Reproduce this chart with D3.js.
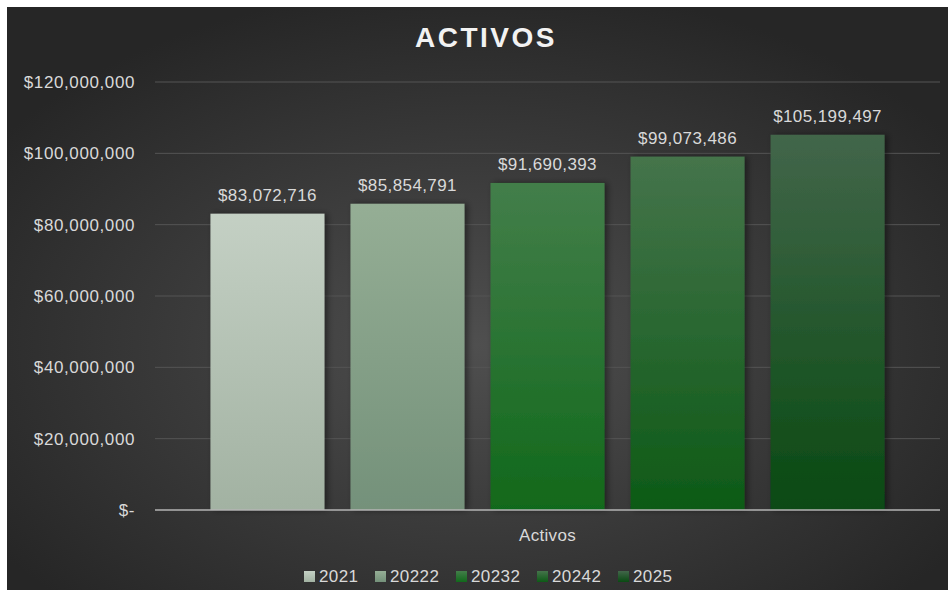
<!DOCTYPE html>
<html>
<head>
<meta charset="utf-8">
<script src="https://cdn.jsdelivr.net/npm/d3@7"></script>
<style>
  body { margin: 0; background: #ffffff; }
  svg { display: block; font-family: "Liberation Sans", Arial, sans-serif; }
</style>
</head>
<body>
<svg id="chart"></svg>
<script>
const width = 949, height = 590
const margin = { top: 82, bottom: 80, left: 155, right: 9 }

// data
const categories = ["Activos"]
const series = ["2021", "20222", "20232", "20242", "2025"]
const values = [83072716, 85854791, 91690393, 99073486, 105199497]
const yTicks = [0, 20000000, 40000000, 60000000, 80000000, 100000000, 120000000]
// top / bottom colour of each bar's gradient
const colorsTop = ["#c4d0c4", "#95ae95", "#437e4a", "#45744b", "#42664a"]
const colorsBottom = ["#a2b2a2", "#74917a", "#11691b", "#0d5a16", "#094a12"]

const data = series.map((s, i) => ({ name: s, value: values[i], top: colorsTop[i], bottom: colorsBottom[i] }))

const svg = d3.select("svg#chart")
    .attr("width", width)
    .attr("height", height)
    .attr("viewBox", [0, 0, width, height])

const defs = svg.append("defs")

const bg = defs.append("radialGradient")
    .attr("id", "bg")
    .attr("cx", "50%").attr("cy", "58%").attr("r", "62%")
bg.append("stop").attr("offset", "0%").attr("stop-color", "#4f4f4f")
bg.append("stop").attr("offset", "100%").attr("stop-color", "#262626")

data.forEach((d, i) => {
    const g = defs.append("linearGradient")
        .attr("id", "bar" + i)
        .attr("x1", 0).attr("y1", 0).attr("x2", 0).attr("y2", 1)
    g.append("stop").attr("offset", "0%").attr("stop-color", d.top)
    g.append("stop").attr("offset", "100%").attr("stop-color", d.bottom)
})

const shadow = defs.append("filter")
    .attr("id", "shadow")
    .attr("x", "-20%").attr("y", "-20%").attr("width", "140%").attr("height", "140%")
shadow.append("feDropShadow")
    .attr("dx", 3).attr("dy", 0)
    .attr("stdDeviation", 3)
    .attr("flood-color", "#000")
    .attr("flood-opacity", 0.45)

// background
svg.append("rect")
    .attr("x", 7).attr("y", 7)
    .attr("width", 941).attr("height", 583)
    .attr("fill", "url(#bg)")

const x0 = d3.scaleBand()
    .domain(categories)
    .range([margin.left, width - margin.right])

const x = d3.scaleBand()
    .domain(series)
    .range([0, x0.bandwidth()])
    .paddingInner(0.186)
    .paddingOuter(0.396)

const y = d3.scaleLinear()
    .domain([0, 120000000])
    .range([height - margin.bottom, margin.top])

const fmtMoney = v => v === 0 ? "$-" : "$" + d3.format(",")(v)

// gridlines
svg.append("g")
    .selectAll("line")
    .data(yTicks.filter(t => t > 0))
    .join("line")
    .attr("x1", margin.left)
    .attr("x2", width - margin.right)
    .attr("y1", d => y(d))
    .attr("y2", d => y(d))
    .attr("stroke", "#555555")
    .attr("stroke-width", 1)

// y axis labels
const yAxis = svg.append("g")
    .attr("transform", `translate(${margin.left - 20}, 0)`)
    .call(d3.axisLeft(y).tickValues(yTicks).tickFormat(fmtMoney).tickSize(0).tickPadding(0))
yAxis.select(".domain").remove()
yAxis.selectAll("text")
    .attr("fill", "#d9d9d9")
    .attr("font-size", 17)
    .attr("letter-spacing", 0.6)
    .attr("font-family", "Liberation Sans, Arial, sans-serif")

// bars
const group = svg.append("g")
    .attr("transform", `translate(${x0("Activos")}, 0)`)

group.selectAll("rect.bar")
    .data(data)
    .join("rect")
    .attr("class", "bar")
    .attr("x", d => x(d.name))
    .attr("y", d => y(d.value))
    .attr("width", x.bandwidth())
    .attr("height", d => y(0) - y(d.value))
    .attr("fill", (d, i) => `url(#bar${i})`)
    .attr("filter", "url(#shadow)")

group.selectAll("text.label")
    .data(data)
    .join("text")
    .attr("class", "label")
    .attr("x", d => x(d.name) + x.bandwidth() / 2)
    .attr("y", d => y(d.value) - 13)
    .attr("text-anchor", "middle")
    .attr("fill", "#d9d9d9")
    .attr("font-size", 17)
    .attr("letter-spacing", 0.4)
    .text(d => fmtMoney(d.value))

// x axis line
svg.append("line")
    .attr("x1", margin.left)
    .attr("x2", width - margin.right)
    .attr("y1", y(0))
    .attr("y2", y(0))
    .attr("stroke", "#b5b5b5")
    .attr("stroke-width", 1.5)

// category label
svg.append("text")
    .attr("x", x0("Activos") + x0.bandwidth() / 2)
    .attr("y", 541)
    .attr("text-anchor", "middle")
    .attr("fill", "#d9d9d9")
    .attr("font-size", 17)
    .attr("letter-spacing", 0.3)
    .text(categories[0])

// title
svg.append("text")
    .attr("x", 486)
    .attr("y", 47)
    .attr("text-anchor", "middle")
    .attr("fill", "#f2f2f2")
    .attr("font-size", 28)
    .attr("font-weight", "bold")
    .attr("letter-spacing", 2.5)
    .text("ACTIVOS")

// legend
const legendX = [304, 375, 456, 537, 618]
const legend = svg.append("g")
    .selectAll("g")
    .data(data)
    .join("g")
    .attr("transform", (d, i) => `translate(${legendX[i]}, 571)`)

legend.append("rect")
    .attr("width", 11)
    .attr("height", 11)
    .attr("fill", (d, i) => `url(#bar${i})`)

legend.append("text")
    .attr("x", 15)
    .attr("y", 11)
    .attr("fill", "#d9d9d9")
    .attr("font-size", 17)
    .attr("letter-spacing", 0.4)
    .text(d => d.name)
</script>
</body>
</html>
